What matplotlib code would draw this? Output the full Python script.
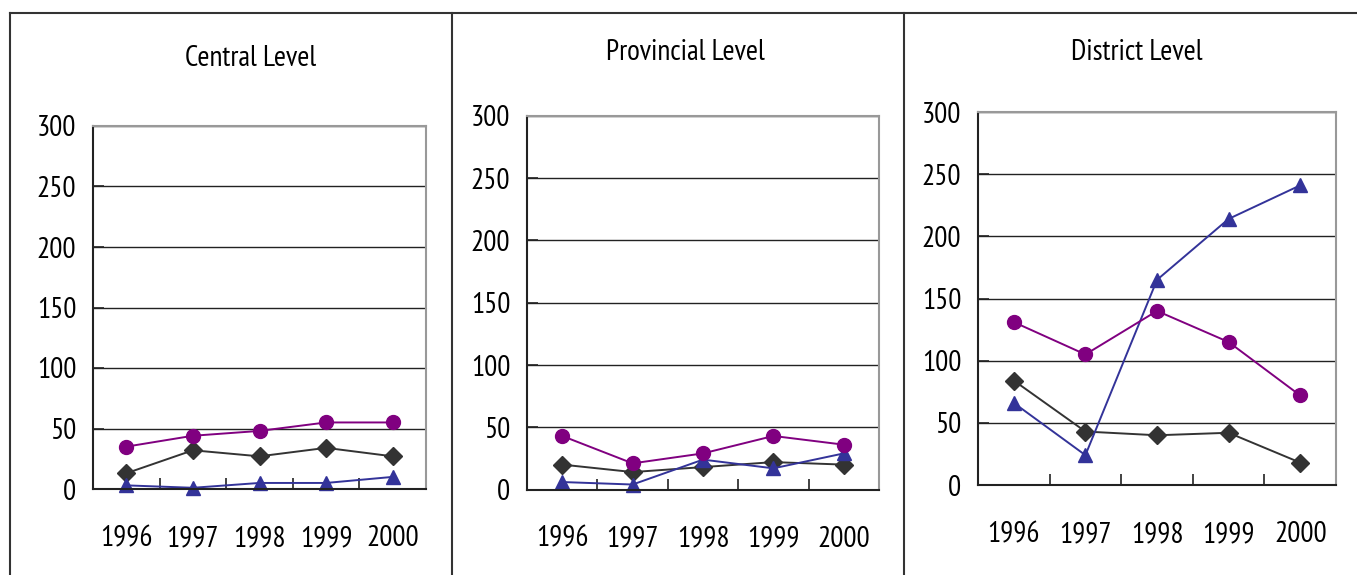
import matplotlib
matplotlib.use('Agg')
import matplotlib.pyplot as plt
from matplotlib.lines import Line2D
import numpy as np

plt.rcParams['font.family'] = ['PT Sans Narrow', 'Liberation Sans', 'DejaVu Sans']

years = ['1996', '1997', '1998', '1999', '2000']
levels = ['Central Level', 'Provincial Level', 'District Level']

# series per level: circles (purple), diamonds (dark), triangles (blue)
central_circle = [35, 44, 48, 55, 55]
central_diamond = [13, 32, 27, 34, 27]
central_triangle = [3, 1, 5, 5, 10]

provincial_circle = [43, 21, 29, 43, 36]
provincial_diamond = [20, 14, 18, 22, 20]
provincial_triangle = [6, 4, 24, 17, 29]

district_circle = [131, 105, 140, 115, 72]
district_diamond = [84, 43, 40, 42, 18]
district_triangle = [66, 24, 165, 214, 241]

yticks = [0, 50, 100, 150, 200, 250, 300]

W, H = 1357, 575
fig = plt.figure(figsize=(W / 100, H / 100), dpi=100)

# axes boxes in pixels: left, top, right, bottom
boxes = [(93, 126, 426, 489), (527, 116, 879, 489.5), (978, 112, 1336, 485)]
titles_at = [(251, 58), (685, 52), (1137, 52)]
data = [
    (central_circle, central_diamond, central_triangle),
    (provincial_circle, provincial_diamond, provincial_triangle),
    (district_circle, district_diamond, district_triangle),
]

purple = '#800080'
dark = '#333333'
blue = '#333399'
fs = 21

x = np.arange(len(years))
for (l, t, r, b), (tx, ty), title, (circ, diam, tri) in zip(boxes, titles_at, levels, data):
    ax = fig.add_axes([l / W, 1 - b / H, (r - l) / W, (b - t) / H])
    ax.set_xlim(-0.5, len(years) - 0.5)
    ax.set_ylim(0, 300)
    ax.set_yticks(yticks)
    ax.set_yticklabels([str(v) for v in yticks], fontsize=fs)
    ax.set_xticks(x)
    ax.set_xticklabels(years, fontsize=fs)
    ax.set_xticks(np.arange(-0.5, len(years)), minor=True)
    ax.tick_params(axis='x', which='major', length=0, pad=26)
    ax.tick_params(axis='x', which='minor', direction='in', length=8, width=1.2, color='#222222')
    ax.tick_params(axis='y', direction='in', length=8, width=1.2, pad=12, color='#222222')
    ax.grid(axis='y', color='#222222', linewidth=1.0)
    ax.set_axisbelow(True)
    for side in ['left', 'bottom']:
        ax.spines[side].set_color('#222222')
        ax.spines[side].set_linewidth(1.5)
    for side in ['top', 'right']:
        ax.spines[side].set_color('#999999')
        ax.spines[side].set_linewidth(1.5)

    ax.plot(x, diam, color=dark, marker='D', markersize=9.5, linewidth=1.4, clip_on=False)
    ax.plot(x, tri, color=blue, marker='^', markersize=10, linewidth=1.4, clip_on=False)
    ax.plot(x, circ, color=purple, marker='o', markersize=10, linewidth=1.4, clip_on=False)

    fig.text(tx / W, 1 - ty / H, title, fontsize=fs, ha='center', va='center')

# panel frame lines
frame = dict(color='#333333', linewidth=1.5, transform=fig.transFigure)
fig.add_artist(Line2D([10 / W, 1.0], [1 - 13 / H, 1 - 13 / H], **frame))
for px in [10, 452, 904]:
    fig.add_artist(Line2D([px / W, px / W], [0, 1 - 13 / H], **frame))

fig.savefig('out.png', dpi=100)
